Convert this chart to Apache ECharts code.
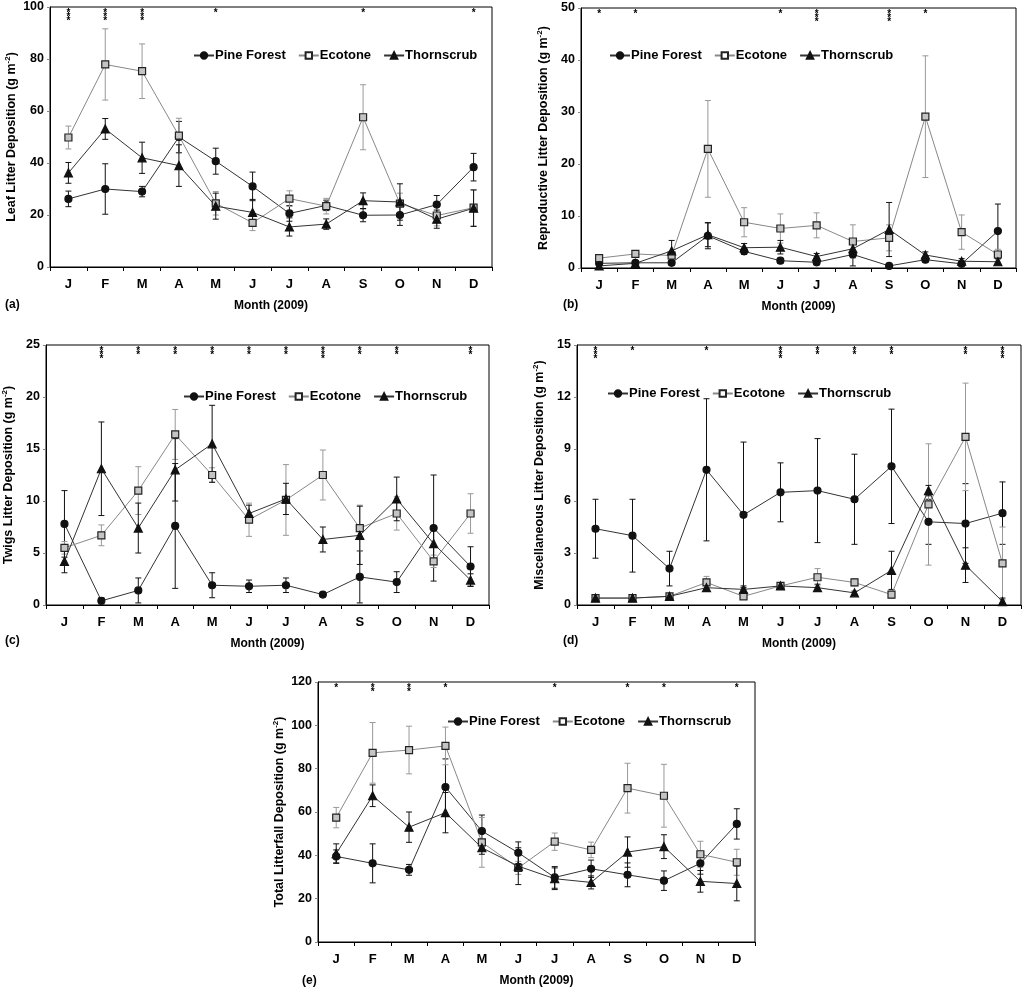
<!DOCTYPE html>
<html>
<head>
<meta charset="utf-8">
<script src="https://cdn.jsdelivr.net/npm/echarts@6/dist/echarts.min.js"></script>
<style>
  html, body { margin: 0; padding: 0; background: #fff; }
  #chart { width: 1028px; height: 1000px; }
</style>
</head>
<body>
<div id="chart"></div>
<script>
const months = ['J', 'F', 'M', 'A', 'M', 'J', 'J', 'A', 'S', 'O', 'N', 'D']

// (a) leaf litter
const leafPine = [26.2, 30, 29, 50, 40.7, 31, 20.6, 23.7, 19.9, 20, 24, 38.4]
const leafPineErr = [3, 9.7, 2, 6, 5, 5.5, 3, 2, 2.5, 4, 3.5, 5.3]
const leafEco = [49.8, 77.9, 75.3, 50.5, 24.5, 17, 26.3, 23.4, 57.6, 24.4, 19.8, 22.8]
const leafEcoErr = [4.4, 13.7, 10.5, 6.7, 4.5, 3, 3, 3, 12.5, 4, 4, 7]
const leafThorn = [36.2, 53.1, 42, 39, 23.4, 21, 15.4, 16.5, 25.5, 25, 18.4, 22.6]
const leafThornErr = [4, 4, 6, 8, 5, 5, 3.5, 2, 3, 7, 3.5, 7]
const leafStars = ['***', '***', '***', '', '*', '', '', '', '*', '', '', '*']

// (b) reproductive litter
const reproPine = [0.9, 1.0, 1.0, 6.2, 3.2, 1.4, 1.1, 2.6, 0.4, 1.6, 0.8, 7.1]
const reproPineErr = [0.4, 0.4, 0.5, 2.5, 0.6, 0.5, 0.5, 2.2, 0.3, 0.5, 0.4, 5.2]
const reproEco = [1.9, 2.7, 2.4, 22.9, 8.8, 7.6, 8.2, 5.1, 5.8, 29.1, 6.9, 2.6]
const reproEcoErr = [0.4, 0.5, 0.6, 9.3, 2.8, 2.8, 2.4, 3.2, 2.5, 11.7, 3.3, 1.0]
const reproThorn = [0.4, 0.9, 3.3, 6.4, 3.9, 4.0, 2.2, 3.7, 7.4, 2.5, 1.3, 1.2]
const reproThornErr = [0.3, 0.4, 2.0, 2.3, 0.8, 1.3, 0.6, 1.0, 5.2, 0.6, 0.5, 0.6]
const reproStars = ['*', '*', '', '', '', '*', '***', '', '***', '*', '', '']

// (c) twigs litter
const twigPine = [7.8, 0.4, 1.4, 7.6, 1.9, 1.8, 1.9, 1.0, 2.7, 2.2, 7.4, 3.7]
const twigPineErr = [3.2, 0.3, 1.2, 6, 1.2, 0.6, 0.7, 0.2, 2.5, 1.0, 5.1, 1.9]
const twigEco = [5.5, 6.7, 11.0, 16.4, 12.5, 8.2, 10.1, 12.5, 7.4, 8.8, 4.2, 8.8]
const twigEcoErr = [0.6, 1.0, 2.3, 2.4, 0.7, 1.6, 3.4, 2.4, 2.2, 1.6, 0.6, 1.9]
const twigThorn = [4.2, 13.1, 7.4, 13.0, 15.5, 8.8, 10.2, 6.3, 6.7, 10.2, 5.9, 2.4]
const twigThornErr = [1.1, 4.5, 2.4, 3, 3.7, 0.8, 1.5, 1.2, 2.8, 2.1, 1.5, 0.6]
const twigStars = ['', '***', '**', '**', '**', '**', '**', '***', '**', '**', '', '**']

// (d) miscellaneous litter
const miscPine = [4.4, 4.0, 2.1, 7.8, 5.2, 6.5, 6.6, 6.1, 8.0, 4.8, 4.7, 5.3]
const miscPineErr = [1.7, 2.1, 1.0, 4.1, 4.2, 1.7, 3.0, 2.6, 3.3, 1.3, 2.3, 1.8]
const miscEco = [0.4, 0.4, 0.5, 1.3, 0.5, 1.1, 1.6, 1.3, 0.6, 5.8, 9.7, 2.4]
const miscEcoErr = [0.1, 0.1, 0.1, 0.35, 0.1, 0.1, 0.5, 0.2, 0.2, 3.5, 3.1, 2.1]
const miscThorn = [0.4, 0.4, 0.5, 1.0, 0.9, 1.1, 1.0, 0.7, 2.0, 6.6, 2.3, 0.2]
const miscThornErr = [0.1, 0.1, 0.1, 0.2, 0.2, 0.1, 0.2, 0.1, 1.1, 0.3, 1.0, 0.2]
const miscStars = ['***', '*', '', '*', '', '***', '**', '**', '**', '', '**', '***']

// (e) total litterfall
const totalPine = [39.5, 36.3, 33.3, 71.5, 51.2, 41.2, 29.8, 33.8, 31, 28.3, 36.3, 54.5]
const totalPineErr = [3, 9, 2.5, 13, 7.4, 5, 5, 4, 5.5, 4.5, 5, 7]
const totalEco = [57.4, 87.3, 88.6, 90.5, 46, 34.2, 46.3, 42.5, 71, 67.5, 40.5, 36.8]
const totalEcoErr = [4.7, 14, 11, 8.7, 11.5, 3, 4, 3.6, 11.5, 14.5, 6, 6]
const totalThorn = [40.8, 67.5, 53, 59.7, 43.5, 35, 29.2, 27.5, 41.5, 44, 28, 27]
const totalThornErr = [4.5, 5, 7, 9.3, 3, 8.5, 5, 3, 7, 5.5, 5, 8]
const totalStars = ['*', '**', '**', '*', '', '', '*', '', '*', '*', '', '*']

const FONT = "'Liberation Sans', Arial, sans-serif"

const panels = [
  { tag: '(a)', title: 'Leaf Litter Deposition', max: 100, step: 20,
    grid: { left: 50, top: 7, width: 442, height: 260 }, legend: { left: 188, top: 44 },
    pine: [leafPine, leafPineErr], eco: [leafEco, leafEcoErr], thorn: [leafThorn, leafThornErr],
    stars: leafStars, tagPos: [5, 299] },
  { tag: '(b)', title: 'Reproductive Litter Deposition', max: 50, step: 10,
    grid: { left: 581, top: 8, width: 435, height: 260 }, legend: { left: 604, top: 44 },
    pine: [reproPine, reproPineErr], eco: [reproEco, reproEcoErr], thorn: [reproThorn, reproThornErr],
    stars: reproStars, tagPos: [563, 299] },
  { tag: '(c)', title: 'Twigs Litter Deposition', max: 25, step: 5,
    grid: { left: 45, top: 345, width: 444, height: 260 }, legend: { left: 178, top: 385 },
    pine: [twigPine, twigPineErr], eco: [twigEco, twigEcoErr], thorn: [twigThorn, twigThornErr],
    stars: twigStars, tagPos: [5, 635] },
  { tag: '(d)', title: 'Miscellaneous Litter Deposition', max: 15, step: 3,
    grid: { left: 577, top: 345, width: 444, height: 260 }, legend: { left: 602, top: 382 },
    pine: [miscPine, miscPineErr], eco: [miscEco, miscEcoErr], thorn: [miscThorn, miscThornErr],
    stars: miscStars, tagPos: [563, 635] },
  { tag: '(e)', title: 'Total Litterfall Deposition', max: 120, step: 20,
    grid: { left: 318, top: 682, width: 437, height: 260 }, legend: { left: 442, top: 710 },
    pine: [totalPine, totalPineErr], eco: [totalEco, totalEcoErr], thorn: [totalThorn, totalThornErr],
    stars: totalStars, tagPos: [302, 975] }
]

const looks = {
  'Pine Forest': { symbol: 'circle', size: 7, fill: '#111', border: '#111', line: '#333', err: '#111' },
  'Ecotone': { symbol: 'rect', size: 7, fill: '#c4c4c4', border: '#222', line: '#888', err: '#999' },
  'Thornscrub': { symbol: 'triangle', size: 8, fill: '#111', border: '#111', line: '#333', err: '#111' }
}

const grids = [], xAxes = [], yAxes = [], series = [], legends = [], graphics = []

function errorBars(idx, name, vals, errs) {
  const color = looks[name].err
  return {
    type: 'custom', name: name + ' err', xAxisIndex: idx, yAxisIndex: idx, z: 1, silent: true,
    data: vals.map((v, i) => [i, v, errs[i]]),
    renderItem: (params, api) => {
      const x = api.value(0), v = api.value(1), e = api.value(2)
      const hi = api.coord([x, v + e])
      const lo = api.coord([x, Math.max(0, v - e)])
      const st = { stroke: color, lineWidth: 1 }
      return {
        type: 'group',
        children: [
          { type: 'line', shape: { x1: hi[0], y1: hi[1], x2: lo[0], y2: lo[1] }, style: st },
          { type: 'line', shape: { x1: hi[0] - 3, y1: hi[1], x2: hi[0] + 3, y2: hi[1] }, style: st },
          { type: 'line', shape: { x1: lo[0] - 3, y1: lo[1], x2: lo[0] + 3, y2: lo[1] }, style: st }
        ]
      }
    }
  }
}

panels.forEach((p, idx) => {
  grids.push(Object.assign({ show: true, borderColor: '#000', borderWidth: 1, backgroundColor: '#fff' }, p.grid))
  xAxes.push({
    type: 'category', gridIndex: idx, data: months, boundaryGap: true,
    name: 'Month (2009)', nameLocation: 'middle', nameGap: 33,
    nameTextStyle: { fontFamily: FONT, fontWeight: 'bold', fontSize: 12, color: '#000' },
    axisLine: { lineStyle: { color: '#000', width: 1 } },
    axisTick: { show: true, length: 4, lineStyle: { color: '#000' } },
    axisLabel: { fontFamily: FONT, fontWeight: 'bold', fontSize: 13, color: '#000', margin: 11 },
    splitLine: { show: false }
  })
  yAxes.push({
    type: 'value', gridIndex: idx, min: 0, max: p.max, interval: p.step,
    name: p.title + ' (g m{sup|-2})', nameLocation: 'middle', nameGap: 30,
    nameTextStyle: {
      fontFamily: FONT, fontWeight: 'bold', fontSize: 12.5, color: '#000', lineHeight: 15,
      rich: { sup: { fontFamily: FONT, fontWeight: 'bold', fontSize: 8, verticalAlign: 'top', lineHeight: 15 } }
    },
    axisLine: { show: true, lineStyle: { color: '#000', width: 1 } },
    axisTick: { show: true, length: 3, lineStyle: { color: '#888' } },
    axisLabel: { fontFamily: FONT, fontWeight: 'bold', fontSize: 12.5, color: '#000', margin: 6 },
    splitLine: { show: false }
  })
  const sets = [['Pine Forest', p.pine], ['Ecotone', p.eco], ['Thornscrub', p.thorn]]
  sets.forEach(([name, [vals, errs]]) => {
    series.push(errorBars(idx, name, vals, errs))
  })
  sets.forEach(([name, [vals]]) => {
    const lk = looks[name]
    series.push({
      type: 'line', name: name, xAxisIndex: idx, yAxisIndex: idx, z: 3,
      data: vals, symbol: lk.symbol, symbolSize: lk.size, showSymbol: true,
      lineStyle: { color: lk.line, width: 1 },
      itemStyle: { color: lk.fill, borderColor: lk.border, borderWidth: 1.2 },
      emphasis: { disabled: true }, animation: false
    })
  })
  const stars = p.stars
  series.push({
    type: 'custom', name: 'stars' + idx, xAxisIndex: idx, yAxisIndex: idx, z: 4, silent: true,
    data: stars.map((s, i) => [i, p.max]),
    renderItem: (params, api) => {
      const s = stars[params.dataIndex]
      if (!s) return null
      const pt = api.coord([api.value(0), api.value(1)])
      return {
        type: 'text', x: pt[0], y: pt[1] + 4,
        style: {
          text: s.split('').join('\n'), fontFamily: FONT, fontWeight: 'bold', fontSize: 10,
          lineHeight: 4, fill: '#000', align: 'center', verticalAlign: 'top'
        }
      }
    }
  })
  legends.push({
    left: p.legend.left, top: p.legend.top, orient: 'horizontal', selectedMode: false,
    itemWidth: 20, itemHeight: 8, itemGap: 12,
    textStyle: { fontFamily: FONT, fontWeight: 'bold', fontSize: 13, color: '#000', padding: [0, 0, 0, -4] },
    data: [
      { name: 'Pine Forest' },
      { name: 'Ecotone', itemStyle: { color: '#fff', borderColor: '#222' } },
      { name: 'Thornscrub' }
    ]
  })
  graphics.push({
    type: 'text', left: p.tagPos[0], top: p.tagPos[1],
    style: { text: p.tag, fontFamily: FONT, fontWeight: 'bold', fontSize: 12, fill: '#000' }
  })
})

const chart = echarts.init(document.getElementById('chart'), null, { renderer: 'canvas' })
chart.setOption({
  backgroundColor: '#fff',
  animation: false,
  grid: grids,
  xAxis: xAxes,
  yAxis: yAxes,
  legend: legends,
  graphic: graphics,
  series: series
})
</script>
</body>
</html>
